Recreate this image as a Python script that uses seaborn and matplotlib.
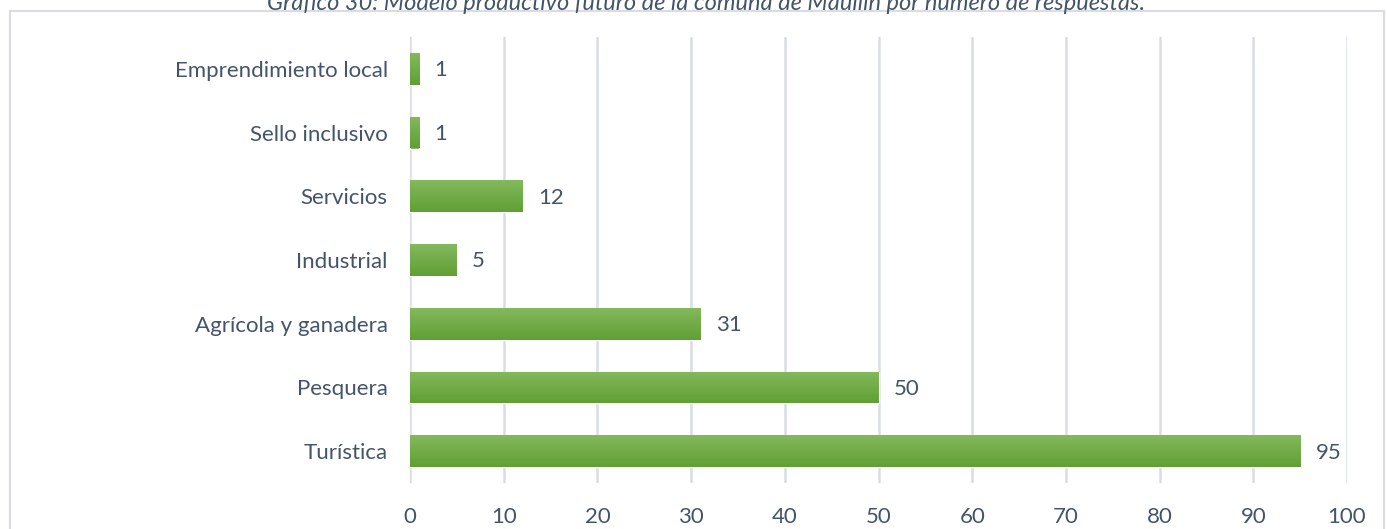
import matplotlib
matplotlib.use("Agg")
import matplotlib.pyplot as plt
import seaborn as sns
import pandas as pd
import numpy as np
from matplotlib.patches import Rectangle
from matplotlib.colors import LinearSegmentedColormap

categories = ["Emprendimiento local", "Sello inclusivo", "Servicios", "Industrial",
              "Agrícola y ganadera", "Pesquera", "Turística"]
values = [1, 1, 12, 5, 31, 50, 95]
x_ticks = [0, 10, 20, 30, 40, 50, 60, 70, 80, 90, 100]
title = "Gráfico 30: Modelo productivo futuro de la comuna de Maullín por número de respuestas."

df = pd.DataFrame({"cat": categories, "val": values})

sns.set_theme(style="white")
plt.rcParams["font.family"] = ["Lato", "DejaVu Sans"]
txt = "#44546A"

fig = plt.figure(figsize=(13.87, 5.29), dpi=100)
ax = fig.add_axes([410/1387, 1-483/529, (1347-410)/1387, (483-37)/529])

sns.barplot(data=df, y="cat", x="val", orient="h", color="#6EAB45", width=0.5,
            saturation=1, ax=ax, zorder=3)

ax.set_xlim(0, 100)
ax.set_ylim(6.5, -0.5)

# vertical gradient on each bar
cmap = LinearSegmentedColormap.from_list("g", ["#86BC5E", "#5E9C32"])
grad = np.linspace(0, 1, 64).reshape(-1, 1)
for p in list(ax.patches):
    x0, y0 = p.get_x(), p.get_y()
    w, h = p.get_width(), p.get_height()
    im = ax.imshow(grad, cmap=cmap, aspect="auto",
                   extent=(x0 - 2, x0 + w + 2, y0 + h + 0.05, y0 - 0.05),
                   origin="upper", zorder=4, interpolation="bilinear")
    im.set_clip_path(p)
ax.set_xlim(0, 100)
ax.set_ylim(6.5, -0.5)

ax.set_xticks(x_ticks)
ax.set_xticklabels([str(t) for t in x_ticks], fontsize=16, color=txt)
ax.tick_params(axis="y", labelsize=16, labelcolor=txt, length=0, pad=16)
ax.tick_params(axis="x", length=0, pad=17)
ax.set_xlabel("")
ax.set_ylabel("")
ax.grid(axis="x", color="#D9DDE3", linewidth=1.8, zorder=0)
ax.set_axisbelow(True)
for s in ax.spines.values():
    s.set_visible(False)

for i, v in enumerate(values):
    ax.annotate(str(v), xy=(v, i), xytext=(11, -1), textcoords="offset points",
                va="center", ha="left", fontsize=16, color=txt)

fig.patches.append(Rectangle((10/1387, -0.05), 1377/1387 - 0.002, 1 - 11/529 + 0.05,
                             transform=fig.transFigure, fill=False,
                             edgecolor="#D9DDE3", linewidth=1.5))
fig.text(706/1387, 1 - 4/529, title, ha="center", va="center", fontsize=17,
         style="italic", color=txt)

fig.savefig("out.png", dpi=100)
